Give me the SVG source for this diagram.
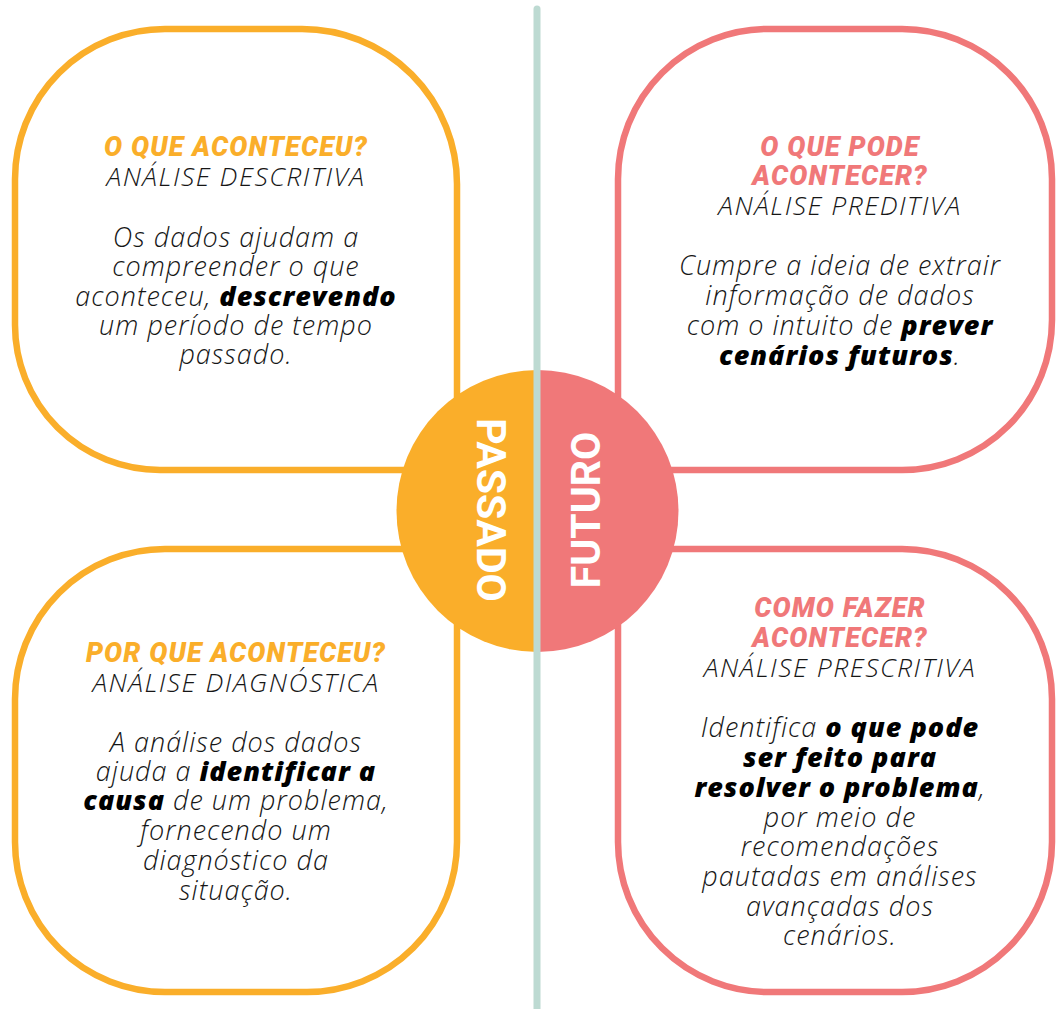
<svg xmlns="http://www.w3.org/2000/svg" width="1056" height="1009" viewBox="0 0 1056 1009">
  <style>
    .box { fill: #ffffff; stroke-width: 6.5; }
    .past { stroke: #FAAE2A; }
    .future { stroke: #F07879; }
    .head { font-family: Roboto, "Liberation Sans", sans-serif; font-weight: 900; font-style: italic; font-size: 27px; letter-spacing: 1.1px; text-anchor: middle; }
    .head.past-t { fill: #FAAE2A; }
    .head.future-t { fill: #F07879; }
    .kind { font-family: "Open Sans", "Liberation Sans", sans-serif; font-weight: 300; font-style: italic; font-size: 26.5px; letter-spacing: 1.5px; fill: #161616; text-anchor: middle; }
    .body { font-family: "Open Sans", "Liberation Sans", sans-serif; font-weight: 300; font-style: italic; font-size: 27px; letter-spacing: 1px; fill: #161616; text-anchor: middle; }
    .b { font-weight: 800; fill: #000000; }
    .era { font-family: Roboto, "Liberation Sans", sans-serif; font-weight: 700; font-size: 41px; fill: #ffffff; text-anchor: middle; }
  </style>

  <!-- Quadrant cards -->
  <g id="descritiva">
    <path class="box past" d="M165,29 H302 A155,155 0 0 1 457,184 V430 A40,40 0 0 1 417,470 H160 A145,145 0 0 1 15,325 V179 A150,150 0 0 1 165,29 Z"/>
    <text class="head past-t" x="236" y="156">O QUE ACONTECEU?</text>
    <text class="kind" x="236" y="186">ANÁLISE DESCRITIVA</text>
    <text class="body" x="236" y="247">Os dados ajudam a</text>
    <text class="body" x="236" y="276">compreender o que</text>
    <text class="body" x="236" y="306">aconteceu, <tspan class="b">descrevendo</tspan></text>
    <text class="body" x="236" y="335">um período de tempo</text>
    <text class="body" x="236" y="364">passado.</text>
  </g>

  <g id="preditiva">
    <path class="box future" d="M768,29 H902 A150,150 0 0 1 1052,179 V320 A150,150 0 0 1 902,470 H658 A40,40 0 0 1 618,430 V179 A150,150 0 0 1 768,29 Z"/>
    <text class="head future-t" x="840" y="156">O QUE PODE</text>
    <text class="head future-t" x="840" y="185">ACONTECER?</text>
    <text class="kind" x="840" y="215">ANÁLISE PREDITIVA</text>
    <text class="body" x="840" y="275">Cumpre a ideia de extrair</text>
    <text class="body" x="840" y="305">informação de dados</text>
    <text class="body" x="840" y="335">com o intuito de <tspan class="b">prever</tspan></text>
    <text class="body" x="840" y="365"><tspan class="b">cenários futuros</tspan>.</text>
  </g>

  <g id="diagnostica">
    <path class="box past" d="M165,549 H417 A40,40 0 0 1 457,589 V842 A150,150 0 0 1 307,992 H165 A150,150 0 0 1 15,842 V699 A150,150 0 0 1 165,549 Z"/>
    <text class="head past-t" x="236" y="662">POR QUE ACONTECEU?</text>
    <text class="kind" x="236" y="692">ANÁLISE DIAGNÓSTICA</text>
    <text class="body" x="236" y="752">A análise dos dados</text>
    <text class="body" x="236" y="781">ajuda a <tspan class="b">identificar a</tspan></text>
    <text class="body" x="236" y="810"><tspan class="b">causa</tspan> de um problema,</text>
    <text class="body" x="236" y="840">fornecendo um</text>
    <text class="body" x="236" y="870">diagnóstico da</text>
    <text class="body" x="236" y="900">situação.</text>
  </g>

  <g id="prescritiva">
    <path class="box future" d="M658,549 H902 A150,150 0 0 1 1052,699 V842 A150,150 0 0 1 902,992 H768 A150,150 0 0 1 618,842 V589 A40,40 0 0 1 658,549 Z"/>
    <text class="head future-t" x="840" y="617">COMO FAZER</text>
    <text class="head future-t" x="840" y="647">ACONTECER?</text>
    <text class="kind" x="840" y="677">ANÁLISE PRESCRITIVA</text>
    <text class="body" x="840" y="737">Identifica <tspan class="b">o que pode</tspan></text>
    <text class="body" x="840" y="767"><tspan class="b">ser feito para</tspan></text>
    <text class="body" x="840" y="797"><tspan class="b">resolver o problema</tspan>,</text>
    <text class="body" x="840" y="827">por meio de</text>
    <text class="body" x="840" y="856">recomendações</text>
    <text class="body" x="840" y="886">pautadas em análises</text>
    <text class="body" x="840" y="916">avançadas dos</text>
    <text class="body" x="840" y="945">cenários.</text>
  </g>

  <!-- Central badge: past / future halves -->
  <g id="passado">
    <path d="M537.5,370 A141,141 0 0 0 537.5,652 Z" fill="#FAAE2A"/>
    <text class="era" transform="translate(477,510) rotate(90)">PASSADO</text>
  </g>
  <g id="futuro">
    <path d="M537.5,370 A141,141 0 0 1 537.5,652 Z" fill="#F07879"/>
    <text class="era" transform="translate(600,510) rotate(-90)">FUTURO</text>
  </g>

  <!-- Timeline divider -->
  <g id="connectors">
    <line x1="537" y1="9" x2="537" y2="1015" stroke="#BDDAD2" stroke-width="7" stroke-linecap="round"/>
  </g>
</svg>
